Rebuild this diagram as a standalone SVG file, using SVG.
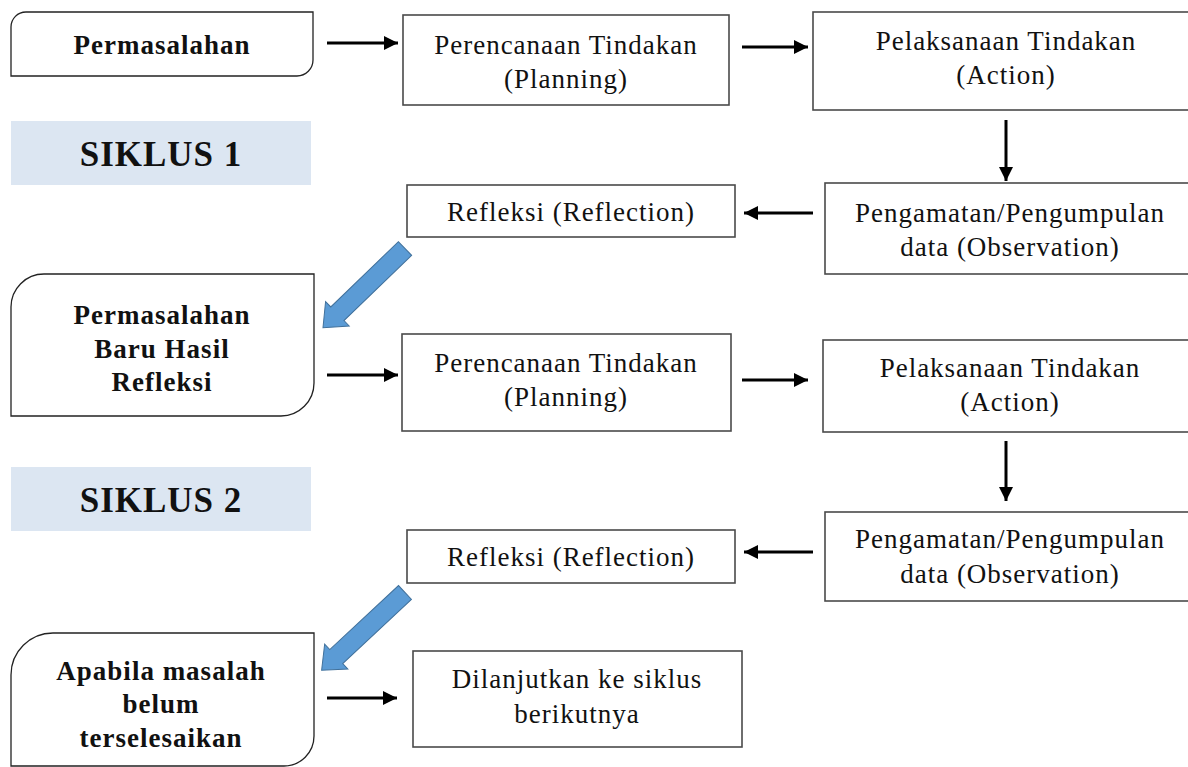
<svg xmlns="http://www.w3.org/2000/svg" width="1188" height="767" viewBox="0 0 1188 767">
<defs>
<style>
.box{fill:#fff;stroke:#4a4a4a;stroke-width:1.6}
.rbox{fill:#fff;stroke:#222;stroke-width:1.3}
.band{fill:#dce6f2}
.t{font-family:"Liberation Serif","Times New Roman",serif;font-size:27px;letter-spacing:1px;fill:#111;text-anchor:middle}
.b{font-family:"Liberation Serif","Times New Roman",serif;font-size:27px;font-weight:bold;letter-spacing:1px;fill:#111;text-anchor:middle}
.s{font-family:"Liberation Serif","Times New Roman",serif;font-size:35px;font-weight:bold;letter-spacing:1px;fill:#111;text-anchor:middle}
.c{stroke:#000;stroke-width:3;fill:none;marker-end:url(#ah)}
.blue{fill:#5b9bd5;stroke:#41719c;stroke-width:1}
</style>
<marker id="ah" markerUnits="userSpaceOnUse" markerWidth="14" markerHeight="14" refX="14" refY="7" orient="auto">
<path d="M0,0 L14,7 L0,14 Z" fill="#000"/>
</marker>
<polygon id="bigarrow" points="0,-9.5 94,-9.5 94,-17 114,0 94,17 94,9.5 0,9.5"/>
</defs>

<g id="siklus1-label">
<rect class="band" x="11" y="121" width="300" height="64"/>
<text class="s" x="161" y="166">SIKLUS 1</text>
</g>
<g id="siklus2-label">
<rect class="band" x="11" y="467" width="300" height="64"/>
<text class="s" x="161" y="512">SIKLUS 2</text>
</g>

<g id="permasalahan">
<path class="rbox" d="M11,27 A15,15 0 0 1 26,12 L313,12 L313,60 A16,16 0 0 1 297,76 L11,76 Z"/>
<text class="b" x="162" y="54">Permasalahan</text>
</g>

<g id="perencanaan1">
<rect class="box" x="403" y="15" width="326" height="90"/>
<text class="t" x="566" y="54">Perencanaan Tindakan</text>
<text class="t" x="566" y="88">(Planning)</text>
</g>

<g id="pelaksanaan1">
<rect class="box" x="813" y="12" width="400" height="98"/>
<text class="t" x="1006" y="50">Pelaksanaan Tindakan</text>
<text class="t" x="1006" y="84">(Action)</text>
</g>

<g id="pengamatan1">
<rect class="box" x="825" y="183" width="400" height="91"/>
<text class="t" x="1010" y="222">Pengamatan/Pengumpulan</text>
<text class="t" x="1010" y="256">data (Observation)</text>
</g>

<g id="refleksi1">
<rect class="box" x="407" y="185" width="328" height="52"/>
<text class="t" x="571" y="221">Refleksi (Reflection)</text>
</g>

<g id="permasalahan-baru">
<path class="rbox" d="M11,307 A33,33 0 0 1 44,274 L314,274 L314,383 A33,33 0 0 1 281,416 L11,416 Z"/>
<text class="b" x="162" y="324">Permasalahan</text>
<text class="b" x="162" y="358">Baru Hasil</text>
<text class="b" x="162" y="391">Refleksi</text>
</g>

<g id="perencanaan2">
<rect class="box" x="402" y="334" width="329" height="97"/>
<text class="t" x="566" y="372">Perencanaan Tindakan</text>
<text class="t" x="566" y="406">(Planning)</text>
</g>

<g id="pelaksanaan2">
<rect class="box" x="823" y="340" width="400" height="92"/>
<text class="t" x="1010" y="377">Pelaksanaan Tindakan</text>
<text class="t" x="1010" y="411">(Action)</text>
</g>

<g id="pengamatan2">
<rect class="box" x="825" y="512" width="400" height="89"/>
<text class="t" x="1010" y="548">Pengamatan/Pengumpulan</text>
<text class="t" x="1010" y="583">data (Observation)</text>
</g>

<g id="refleksi2">
<rect class="box" x="407" y="530" width="328" height="53"/>
<text class="t" x="571" y="566">Refleksi (Reflection)</text>
</g>

<g id="apabila">
<path class="rbox" d="M11,675 A42,42 0 0 1 53,633 L314,633 L314,736 A30,30 0 0 1 284,766 L11,766 Z"/>
<text class="b" x="161" y="680">Apabila masalah</text>
<text class="b" x="161" y="713">belum</text>
<text class="b" x="161" y="747">terselesaikan</text>
</g>

<g id="dilanjutkan">
<rect class="box" x="413" y="651" width="329" height="96"/>
<text class="t" x="577" y="688">Dilanjutkan ke siklus</text>
<text class="t" x="577" y="723">berikutnya</text>
</g>

<g id="connectors">
<line class="c" x1="327" y1="43" x2="398" y2="43"/>
<line class="c" x1="742" y1="47" x2="808" y2="47"/>
<line class="c" x1="1006" y1="120" x2="1006" y2="181"/>
<line class="c" x1="813" y1="213" x2="744" y2="213"/>
<use href="#bigarrow" class="blue" transform="translate(405,248.5) rotate(136)"/>
<line class="c" x1="327" y1="375" x2="398" y2="375"/>
<line class="c" x1="742" y1="380" x2="808" y2="380"/>
<line class="c" x1="1006" y1="441" x2="1006" y2="501"/>
<line class="c" x1="813" y1="552" x2="744" y2="552"/>
<use href="#bigarrow" class="blue" transform="translate(405,592.5) rotate(137)"/>
<line class="c" x1="327" y1="698" x2="397" y2="698"/>
</g>
</svg>
